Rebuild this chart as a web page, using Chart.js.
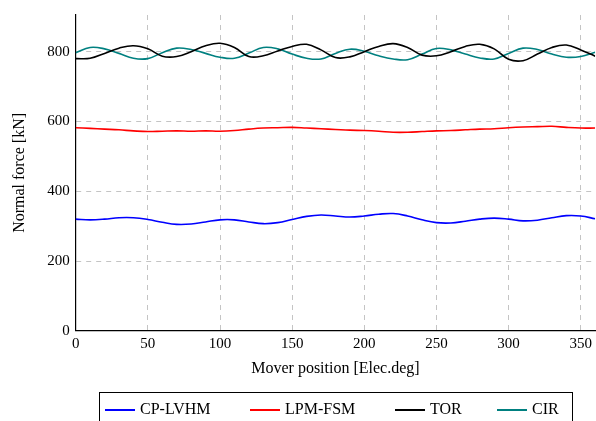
<!DOCTYPE html>
<html>
<head>
<meta charset="utf-8">
<script src="https://cdn.jsdelivr.net/npm/chart.js@4/dist/chart.umd.min.js"></script>
<style>
    body { margin: 0; background: #fff; }
    #wrap { position: relative; width: 596px; height: 421px; overflow: hidden; }
    #legend {
        position: absolute; left: 99px; top: 392px; width: 474px; height: 40px;
        border: 1px solid #000; box-sizing: border-box;
        font-family: "Liberation Serif", serif; font-size: 16px; color: #000;
    }
    .item { position: absolute; top: 7px; white-space: nowrap; }
    .swatch { display: inline-block; width: 30px; height: 2px; vertical-align: middle; margin-right: 5px; }
</style>
</head>
<body>
<div id="wrap">
    <canvas id="forceChart" width="596" height="421"></canvas>
    <div id="legend"></div>
</div>
<script>
// Mover position [Elec.deg]
const positions = [0, 10, 20, 30, 40, 50, 60, 70, 80, 90, 100, 110, 120, 130, 140, 150, 160, 170, 180,
    190, 200, 210, 220, 230, 240, 250, 260, 270, 280, 290, 300, 310, 320, 330, 340, 350, 360];

// Normal force [kN]
const cpLvhm = [320, 318, 320, 324, 324, 319, 311, 305, 306, 312, 318, 318, 312, 307, 310, 319, 328, 332, 329,
    326, 329, 334, 336, 329, 318, 310, 309, 314, 320, 323, 320, 315, 317, 324, 330, 329, 321];
const lpmFsm = [582, 580, 578, 576, 573, 571, 572, 573, 572, 573, 572, 574, 578, 581, 582, 583, 581, 579, 577,
    575, 574, 572, 569, 569, 571, 573, 574, 576, 578, 579, 582, 584, 585, 586, 583, 581, 581];
const tor = [780, 781, 795, 810, 817, 808, 787, 786, 800, 817, 824, 812, 786, 788, 802, 815, 821, 805, 783,
    785, 800, 815, 823, 812, 790, 788, 800, 815, 821, 808, 778, 774, 793, 812, 819, 805, 787];
const cir = [797, 812, 808, 795, 781, 780, 797, 810, 806, 795, 784, 781, 796, 812, 808, 793, 781, 779, 795,
    807, 801, 788, 779, 777, 793, 809, 805, 793, 782, 779, 795, 810, 806, 793, 784, 786, 798];

const xTicks = [0, 50, 100, 150, 200, 250, 300, 350];
const yTicks = [0, 200, 400, 600, 800];

const seriesNames = ['CP-LVHM', 'LPM-FSM', 'TOR', 'CIR'];
const seriesColors = ['#0000ff', '#ff0000', '#000000', '#008080'];
const seriesValues = [cpLvhm, lpmFsm, tor, cir];

const serif = '"Liberation Serif", serif';

const datasets = seriesValues.map((vals, i) => ({
    label: seriesNames[i],
    data: vals.map((v, j) => ({ x: positions[j], y: v })),
    borderColor: seriesColors[i],
    borderWidth: 1.6,
    pointRadius: 0,
    tension: 0.4,
    fill: false
}));

const gridStyle = {
    color: '#c4c4c4',
    lineWidth: 1,
    drawTicks: false
};

new Chart(document.getElementById('forceChart'), {
    type: 'line',
    data: { datasets: datasets },
    options: {
        responsive: false,
        animation: false,
        layout: { padding: { left: 10, top: 12, right: 0, bottom: 43 } },
        plugins: { legend: { display: false }, tooltip: { enabled: false } },
        scales: {
            x: {
                type: 'linear',
                min: 0,
                max: 360,
                afterBuildTicks: scale => { scale.ticks = xTicks.map(v => ({ value: v })); },
                grid: gridStyle,
                border: { display: true, color: '#000', width: 1.2, dash: [5, 5] },
                ticks: { color: '#000', font: { family: serif, size: 15 }, padding: 4, maxRotation: 0 },
                title: {
                    display: true, text: 'Mover position [Elec.deg]', color: '#000',
                    font: { family: serif, size: 16 }, padding: { top: 2, bottom: 0 }
                }
            },
            y: {
                min: 0,
                max: 905,
                afterBuildTicks: scale => { scale.ticks = yTicks.map(v => ({ value: v })); },
                grid: gridStyle,
                border: { display: true, color: '#000', width: 1.2, dash: [5, 5] },
                ticks: { color: '#000', font: { family: serif, size: 15 }, padding: 6 },
                title: {
                    display: true, text: 'Normal force [kN]', color: '#000',
                    font: { family: serif, size: 16 }, padding: { top: 0, bottom: 12 }
                }
            }
        }
    }
});

// Boxed legend under the plot
const legend = document.getElementById('legend');
const itemLeft = [5, 150, 295, 397];
seriesNames.forEach((name, i) => {
    const item = document.createElement('span');
    item.className = 'item';
    item.style.left = itemLeft[i] + 'px';
    item.innerHTML = '<span class="swatch" style="background:' + seriesColors[i] + '"></span>' + name;
    legend.appendChild(item);
});
</script>
</body>
</html>
